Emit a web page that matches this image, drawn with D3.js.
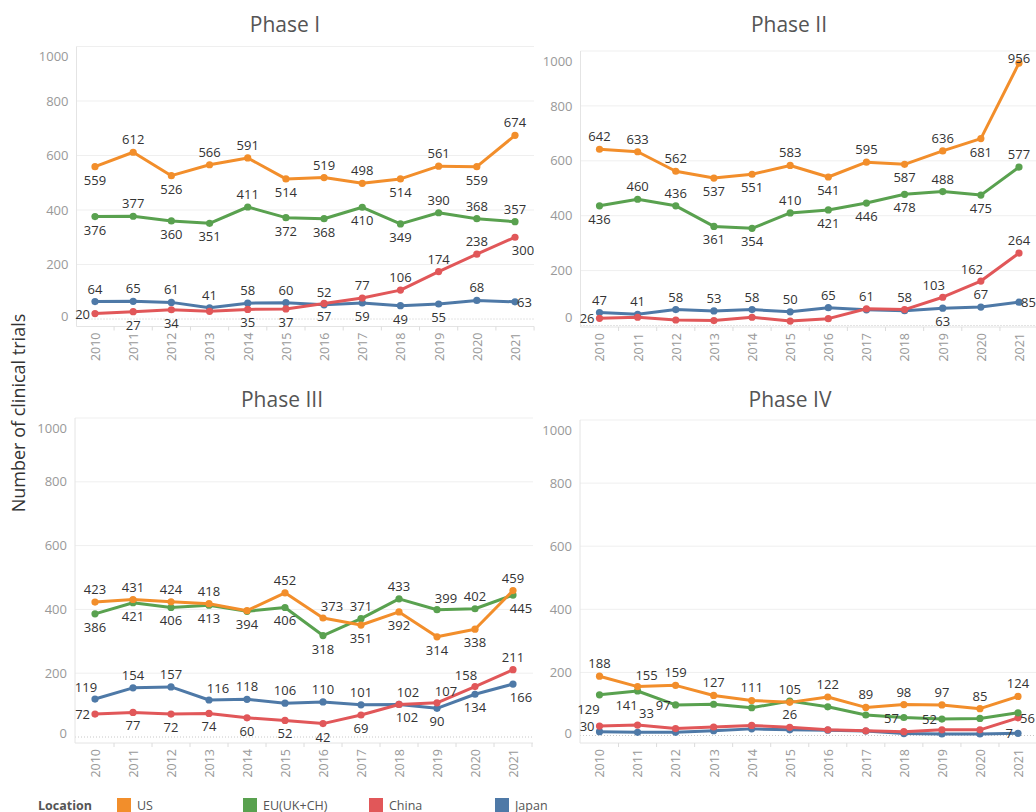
<!DOCTYPE html>
<html lang="en">
<head>
<meta charset="UTF-8">
<title>Clinical trials by phase and location</title>
<script src="https://cdn.jsdelivr.net/npm/d3@7/dist/d3.min.js"></script>
<style>
  body { margin: 0; background: #fff; }
  svg { display: block; font-family: "Open Sans", sans-serif; }
  .grid { stroke: #efefef; stroke-width: 1; }
  .zero { stroke: #c8c8c8; stroke-dasharray: 1 2; }
  .axis-line { stroke: #e4e4e4; stroke-width: 1; }
  .tick-mark { stroke: #dcdcdc; }
  .y-axis text, .x-axis text { fill: #999; font-size: 13px; font-family: "Open Sans", sans-serif; }
  .x-axis text { font-size: 12.5px; }
  .series { fill: none; stroke-width: 3; stroke-linejoin: round; stroke-linecap: round; }
  .val { fill: #333; font-size: 13px; }
  .title { fill: #555; font-size: 21px; }
  .legend text { fill: #555; font-size: 12.5px; }
</style>
</head>
<body>
<svg width="1036" height="812"></svg>
<script>
var years = [2010, 2011, 2012, 2013, 2014, 2015, 2016, 2017, 2018, 2019, 2020, 2021];
var locations = ['US', 'EU(UK+CH)', 'China', 'Japan'];
var phaseNames = ['Phase I', 'Phase II', 'Phase III', 'Phase IV'];
var yTicks = [0, 200, 400, 600, 800, 1000];

// Phase I
var usP1 = [559, 612, 526, 566, 591, 514, 519, 498, 514, 561, 559, 674];
var euP1 = [376, 377, 360, 351, 411, 372, 368, 410, 349, 390, 368, 357];
var cnP1 = [20, 27, 34, 28, 35, 37, 57, 77, 106, 174, 238, 300];
var jpP1 = [64, 65, 61, 41, 58, 60, 52, 59, 49, 55, 68, 63];

// Phase II
var usP2 = [642, 633, 562, 537, 551, 583, 541, 595, 587, 636, 681, 956];
var euP2 = [436, 460, 436, 361, 354, 410, 421, 446, 478, 488, 475, 577];
var cnP2 = [26, 30, 20, 18, 30, 16, 25, 61, 58, 103, 162, 264];
var jpP2 = [47, 41, 58, 53, 58, 50, 65, 57, 54, 63, 67, 85];

// Phase III
var usP3 = [423, 431, 424, 418, 396, 452, 373, 351, 392, 314, 338, 459];
var euP3 = [386, 421, 406, 413, 394, 406, 318, 371, 433, 399, 402, 445];
var cnP3 = [72, 77, 72, 74, 60, 52, 42, 69, 102, 107, 158, 211];
var jpP3 = [119, 154, 157, 116, 118, 106, 110, 101, 102, 90, 134, 166];

// Phase IV
var usP4 = [188, 155, 159, 127, 111, 105, 122, 89, 98, 97, 85, 124];
var euP4 = [129, 141, 97, 99, 88, 109, 91, 65, 57, 52, 54, 72];
var cnP4 = [30, 33, 22, 27, 32, 26, 18, 15, 12, 18, 18, 56];
var jpP4 = [12, 10, 10, 15, 21, 18, 17, 14, 6, 5, 5, 7];

var phaseData = [
    [usP1, euP1, cnP1, jpP1],
    [usP2, euP2, cnP2, jpP2],
    [usP3, euP3, cnP3, jpP3],
    [usP4, euP4, cnP4, jpP4]
];

// where each value label sits (a above, b below, l left, r right, - hidden)
var labelSpots = [
    ['b a b a a b a a b a b a', 'b a b b a b b b b a a a', 'l b b - b b b a a a a br', 'a a a a a a a b b b a r'],
    ['a a a b b a b a b a b a', 'b a a b b a b b b a b a', 'l - - - - - - a a al al a', 'a a a a a a a - - b a r'],
    ['a a a a - a ar b b b b a', 'b b b b b b b a a ar a br', 'l b b b b b b b br ar al a', 'al a a ar a a a a ar b b br'],
    ['a ar a a a a a a a a a a', 'bl bl l - - - - - l l - -', 'l ar - - - a - - - - - r', '- - - - - - - - - - - l']
];

var colors = ['#f28e2b', '#59a14f', '#e15759', '#4e79a7'];

var panels = [
    {left: 76.5, right: 534, x0: 95, x1: 515, top: 46.5, y0: 319, bottom: 326.5, tx: 285, ty: 24},
    {left: 580.5, right: 1040, x0: 599.5, x1: 1019, top: 51, y0: 325.5, bottom: 327, tx: 789, ty: 24},
    {left: 75, right: 533, x0: 95, x1: 513, top: 418, y0: 737, bottom: 743, tx: 282, ty: 399},
    {left: 580, right: 1040, x0: 599.5, x1: 1018, top: 420, y0: 735.5, bottom: 743, tx: 790, ty: 399}
];

var spotOffset = {
    a: [0, -13, 'middle'], b: [0, 13, 'middle'],
    l: [-5, 0, 'end'], r: [2, 0, 'start'],
    al: [-9, -12, 'middle'], ar: [9, -12, 'middle'],
    bl: [-11, 14, 'middle'], br: [8, 13, 'middle']
};

var svg = d3.select('svg');

panels.forEach(function(p, pi) {
    var g = svg.append('g');
    var x = d3.scalePoint().domain(years).range([p.x0, p.x1]);
    var y = d3.scaleLinear().domain([0, 1000]).range([p.y0, p.top]);
    var step = x.step();

    g.selectAll('.grid')
        .data(yTicks.slice(1))
        .enter().append('line')
        .attr('class', 'grid')
        .attr('x1', p.left).attr('x2', p.right)
        .attr('y1', function(d) { return y(d); })
        .attr('y2', function(d) { return y(d); });

    g.append('line')
        .attr('class', 'zero')
        .attr('x1', p.left).attr('x2', p.right)
        .attr('y1', y(0)).attr('y2', y(0));

    // y axis
    var yAxis = g.append('g')
        .attr('class', 'y-axis')
        .attr('transform', 'translate(' + p.left + ',0)')
        .call(d3.axisLeft(y).tickValues(yTicks).tickFormat(d3.format('d')).tickSize(0).tickPadding(8));
    yAxis.select('.domain').remove();
    yAxis.selectAll('.tick text')
        .attr('y', function(d) {
            var yy = y(d);
            var c = Math.min(Math.max(yy, p.top + 10), p.bottom - 10);
            return c - yy;
        });

    g.append('line')
        .attr('class', 'axis-line')
        .attr('x1', p.left).attr('x2', p.left)
        .attr('y1', p.top).attr('y2', p.bottom);

    // x axis
    g.append('line')
        .attr('class', 'axis-line')
        .attr('x1', p.left).attr('x2', p.right)
        .attr('y1', p.bottom).attr('y2', p.bottom);

    g.selectAll('.tick-mark')
        .data(years)
        .enter().append('line')
        .attr('class', 'tick-mark')
        .attr('x1', function(d) { return x(d) + step / 2; })
        .attr('x2', function(d) { return x(d) + step / 2; })
        .attr('y1', p.bottom).attr('y2', p.bottom + 4);

    var xAxis = g.append('g')
        .attr('class', 'x-axis')
        .attr('transform', 'translate(0,' + p.bottom + ')')
        .call(d3.axisBottom(x).tickSize(0).tickFormat(d3.format('d')));
    xAxis.select('.domain').remove();
    xAxis.selectAll('.tick text')
        .attr('transform', 'rotate(-90)')
        .attr('text-anchor', 'end')
        .attr('x', -6)
        .attr('y', 0)
        .attr('dy', '0.35em');

    // title
    g.append('text')
        .attr('class', 'title')
        .attr('x', p.tx).attr('y', p.ty)
        .attr('text-anchor', 'middle')
        .attr('dominant-baseline', 'central')
        .text(phaseNames[pi]);

    var line = d3.line()
        .x(function(d, i) { return x(years[i]); })
        .y(function(d) { return y(d); });

    // draw Japan first so US ends on top
    [3, 2, 1, 0].forEach(function(si) {
        var vals = phaseData[pi][si];
        g.append('path')
            .attr('class', 'series')
            .attr('stroke', colors[si])
            .attr('d', line(vals));

        g.selectAll('.dot' + si)
            .data(vals)
            .enter().append('circle')
            .attr('fill', colors[si])
            .attr('r', 3.6)
            .attr('cx', function(d, i) { return x(years[i]); })
            .attr('cy', function(d) { return y(d); });
    });

    [3, 2, 1, 0].forEach(function(si) {
        var vals = phaseData[pi][si];
        var spots = labelSpots[pi][si].split(' ');
        vals.forEach(function(v, i) {
            var s = spotOffset[spots[i]];
            if (!s) return;
            var ly = Math.max(y(v) + s[1], p.top + 7);
            g.append('text')
                .attr('class', 'val')
                .attr('x', x(years[i]) + s[0])
                .attr('y', ly)
                .attr('text-anchor', s[2])
                .attr('dominant-baseline', 'central')
                .text(v);
        });
    });
});

// shared y title
svg.append('text')
    .attr('transform', 'translate(18,413) rotate(-90)')
    .attr('text-anchor', 'middle')
    .attr('dominant-baseline', 'central')
    .attr('fill', '#333')
    .attr('font-size', 18)
    .text('Number of clinical trials');

// legend
var legend = svg.append('g').attr('class', 'legend');
legend.append('text')
    .attr('x', 38).attr('y', 805)
    .attr('dominant-baseline', 'central')
    .attr('font-weight', 'bold')
    .attr('font-size', 11.5)
    .text('Location');

var legendX = d3.scalePoint().domain(locations).range([117, 495]);
var item = legend.selectAll('.item')
    .data(locations)
    .enter().append('g')
    .attr('transform', function(d) { return 'translate(' + legendX(d) + ',0)'; });
item.append('rect')
    .attr('x', 0).attr('y', 798)
    .attr('width', 14).attr('height', 15)
    .attr('fill', function(d, i) { return colors[i]; });
item.append('text')
    .attr('x', 20).attr('y', 805)
    .attr('dominant-baseline', 'central')
    .text(function(d) { return d; });
</script>
</body>
</html>
